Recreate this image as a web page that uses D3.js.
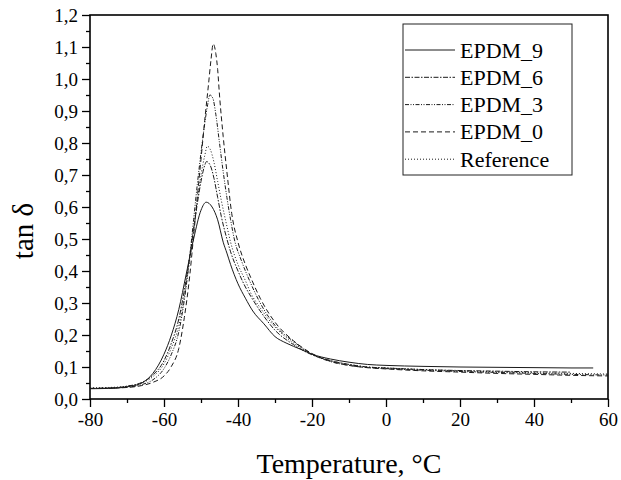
<!DOCTYPE html>
<html>
<head>
<meta charset="utf-8">
<script src="https://cdn.jsdelivr.net/npm/d3@7"></script>
<style>
  body { margin: 0; background: #fff; }
  text { font-family: "Liberation Serif", "Times New Roman", serif; fill: #000; }
</style>
</head>
<body>
<svg width="621" height="480"></svg>
<script>
// data: temperature (°C) and tan delta for each sample
var epdm9T = [-80,-75,-70,-66,-63,-60,-58,-56,-54,-52,-50,-48.6,-47,-45.5,-44,-43,-42,-40,-38,-36,-33,-30,-27,-23,-20,-15,-10,-5,0,10,20,30,40,50,56];
var epdm9V = [0.032,0.033,0.038,0.05,0.08,0.14,0.2,0.28,0.39,0.5,0.59,0.615,0.6,0.56,0.49,0.456,0.42,0.36,0.315,0.275,0.235,0.195,0.175,0.155,0.14,0.125,0.115,0.108,0.105,0.102,0.1,0.099,0.098,0.097,0.097];

var epdm6T = [-80,-75,-70,-66,-63,-60,-58,-56,-54.5,-53,-52,-51,-50,-49,-48.5,-47.5,-46.5,-45.5,-44.5,-43,-42,-40,-38,-36.5,-34,-30,-25,-20,-15,-10,-5,0,10,20,30,40,50];
var epdm6V = [0.033,0.034,0.04,0.052,0.075,0.12,0.175,0.25,0.34,0.45,0.53,0.61,0.68,0.73,0.742,0.73,0.69,0.63,0.57,0.5,0.46,0.4,0.35,0.32,0.275,0.215,0.17,0.138,0.12,0.108,0.1,0.097,0.092,0.089,0.087,0.085,0.084];

var epdm3T = [-80,-75,-70,-66,-63,-60,-58,-56,-54.5,-53,-52,-51,-50,-49,-48.2,-47.6,-46.8,-46,-45,-44,-43,-42,-41,-39,-36.5,-34,-30,-25,-20,-15,-10,-5,0,10,20,30,40,50,60];
var epdm3V = [0.033,0.034,0.037,0.045,0.06,0.095,0.14,0.21,0.31,0.45,0.56,0.67,0.77,0.86,0.92,0.95,0.94,0.89,0.8,0.71,0.63,0.56,0.5,0.43,0.36,0.3,0.23,0.18,0.14,0.117,0.105,0.098,0.095,0.09,0.086,0.083,0.08,0.077,0.075];

var epdm0T = [-80,-75,-70,-66,-63,-60,-58,-56,-54.5,-53,-52,-51,-50,-49,-48,-47.3,-46.7,-46,-45.5,-45,-44,-43,-41.7,-40,-38,-36.5,-34,-30,-25,-20,-15,-10,-5,0,10,20,30,40,50,60];
var epdm0V = [0.033,0.034,0.036,0.042,0.052,0.072,0.102,0.158,0.255,0.39,0.51,0.63,0.75,0.87,0.98,1.06,1.11,1.08,1.03,0.95,0.82,0.71,0.58,0.49,0.42,0.378,0.315,0.24,0.182,0.142,0.118,0.105,0.098,0.094,0.088,0.084,0.08,0.077,0.074,0.072];

var refT = [-80,-75,-70,-66,-63,-60,-58,-56,-54.5,-53,-52,-51,-50,-49,-48.3,-47.5,-46.5,-45.5,-44.5,-43,-42,-40,-38,-36.5,-34,-30,-25,-20,-15,-10,-5,0,10,20,30,40,50,60];
var refV = [0.035,0.036,0.04,0.05,0.07,0.11,0.16,0.23,0.32,0.44,0.53,0.62,0.7,0.76,0.79,0.78,0.74,0.68,0.62,0.54,0.49,0.42,0.37,0.33,0.285,0.225,0.175,0.14,0.12,0.108,0.1,0.097,0.092,0.088,0.085,0.082,0.08,0.078];

var seriesNames = ["EPDM_9", "EPDM_6", "EPDM_3", "EPDM_0", "Reference"];
var seriesDash = [null, "5,1.5,1.5,1.5", "4,1.5,1,1.5,1,1.5", "5,3", "1,2"];

var xTicks = [-80, -60, -40, -20, 0, 20, 40, 60];
var yTicks = [0, 0.1, 0.2, 0.3, 0.4, 0.5, 0.6, 0.7, 0.8, 0.9, 1.0, 1.1, 1.2];

var margin = {top: 15, right: 13, bottom: 81, left: 90},
    width = 621 - margin.left - margin.right,
    height = 480 - margin.top - margin.bottom;

var svg = d3.select("svg")
  .append("g")
    .attr("transform", "translate(" + margin.left + "," + margin.top + ")");

var x = d3.scaleLinear().domain([-80, 60]).range([0, width]);
var y = d3.scaleLinear().domain([0, 1.2]).range([height, 0]);

var comma = function(d) { return d3.format(".1f")(d).replace(".", ","); };

// minor ticks
svg.append("g")
  .attr("transform", "translate(0," + height + ")")
  .call(d3.axisBottom(x).tickValues(d3.range(-70, 60, 20)).tickSize(4).tickSizeOuter(0).tickFormat(""));
svg.append("g")
  .call(d3.axisLeft(y).tickValues(d3.range(0.05, 1.2, 0.1)).tickSize(4).tickSizeOuter(0).tickFormat(""));

// major axes
var xAxis = svg.append("g")
  .attr("transform", "translate(0," + height + ")")
  .call(d3.axisBottom(x).tickValues(xTicks).tickSize(8).tickSizeOuter(0).tickPadding(6)
    .tickFormat(function(d) { return String(d); }));
xAxis.selectAll("text").style("font-size", "19px");

var yAxis = svg.append("g")
  .call(d3.axisLeft(y).tickValues(yTicks).tickSize(8).tickSizeOuter(0).tickPadding(4).tickFormat(comma));
yAxis.selectAll("text").style("font-size", "19px");

svg.selectAll(".domain").remove();
svg.selectAll(".tick line").attr("stroke", "#000").attr("stroke-width", 1.3);

// frame
svg.append("rect")
  .attr("width", width).attr("height", height)
  .attr("fill", "none").attr("stroke", "#000").attr("stroke-width", 1.6);

var line = d3.line()
  .x(function(d) { return x(d[0]); })
  .y(function(d) { return y(d[1]); })
  .curve(d3.curveMonotoneX);

var series = [
  d3.zip(epdm9T, epdm9V),
  d3.zip(epdm6T, epdm6V),
  d3.zip(epdm3T, epdm3V),
  d3.zip(epdm0T, epdm0V),
  d3.zip(refT, refV)
];

svg.selectAll(".curve")
  .data(series)
  .enter()
  .append("path")
    .attr("class", "curve")
    .attr("fill", "none")
    .attr("stroke", "#1a1a1a")
    .attr("stroke-width", 1)
    .attr("stroke-dasharray", function(d, i) { return seriesDash[i]; })
    .attr("d", line);

// legend
var legend = svg.append("g").attr("transform", "translate(" + (403 - margin.left) + "," + (24 - margin.top) + ")");
legend.append("rect")
  .attr("width", 169).attr("height", 151)
  .attr("fill", "#fff").attr("stroke", "#222").attr("stroke-width", 1);

var item = legend.selectAll(".item")
  .data(seriesNames)
  .enter()
  .append("g")
    .attr("transform", function(d, i) { return "translate(0," + (33.5 + i * 27.3) + ")"; });
item.append("line")
  .attr("x1", 2).attr("x2", 52).attr("y1", -7.5).attr("y2", -7.5)
  .attr("stroke", "#1a1a1a").attr("stroke-width", 1)
  .attr("stroke-dasharray", function(d, i) { return seriesDash[i]; });
item.append("text")
  .attr("x", 57)
  .style("font-size", "22px")
  .text(function(d) { return d; });

// axis titles
d3.select("svg").append("text")
  .attr("x", 349).attr("y", 473)
  .attr("text-anchor", "middle")
  .style("font-size", "28px")
  .text("Temperature, °C");

d3.select("svg").append("text")
  .attr("transform", "translate(33,231) rotate(-90)")
  .attr("text-anchor", "middle")
  .style("font-size", "29px")
  .text("tan δ");
</script>
</body>
</html>
